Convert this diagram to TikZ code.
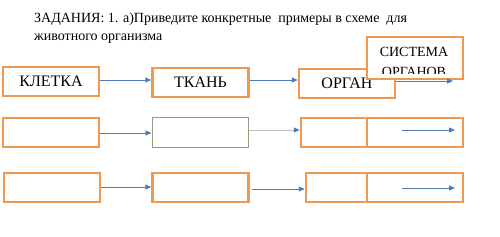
\documentclass[tikz,border=0pt]{standalone}
\usepackage{fontspec}
\setmainfont{Liberation Serif}
\usetikzlibrary{arrows.meta}
\definecolor{orng}{RGB}{238,152,80}
\definecolor{arrblue}{RGB}{79,124,185}
\definecolor{grn}{RGB}{140,160,125}
\definecolor{lgray}{RGB}{185,195,205}
\tikzset{
  obox/.style={draw=orng, line width=2.5pt, fill=white, inner sep=0pt, minimum height=29, minimum width=96, font=\fontsize{16}{18}\selectfont},
  gbox/.style={draw=grn, line width=1pt, fill=white, inner sep=0pt, minimum height=30, minimum width=96},
  arr/.style={draw=arrblue, line width=0.9pt, -{Triangle[length=6pt,width=5pt]}},
  title/.style={anchor=base west, inner sep=0pt, font=\fontsize{14}{16}\selectfont}
}
\begin{document}
\begin{tikzpicture}[x=1pt,y=-1pt]
\useasboundingbox[fill=white] (0,0) rectangle (500,236);
\node[title] (t1) at (34,22) {ЗАДАНИЯ: 1. а)Приведите конкретные\ \ примеры в схеме\ \ для};
\node[title] (t2) at (34,40) {животного организма};
% row 1
\node[obox] (k) at (51,81.5) {КЛЕТКА};
\node[obox] (tk) at (200.5,82.5) {ТКАНЬ};
\node[obox] (o) at (347,83.5) {ОРГАН};
\draw[arr] (k.east |- 0,80) -- (tk.west |- 0,80);
\draw[arr] (tk.east |- 0,80) -- (o.west |- 0,80);
\node[draw=orng, line width=2.5pt, fill=white, inner sep=0pt, minimum width=96, minimum height=42] (s) at (415,58) {};
\begin{scope}
\clip (369,39) rectangle (461,73);
\node[font=\fontsize{14}{20}\selectfont, align=center, inner sep=0pt] (st) at (414,61.5) {СИСТЕМА\\ОРГАНОВ};
\end{scope}
\coordinate (se) at (453,81);
\draw[arr] (o.east |- se) -- (se);
% row 2
\node[obox] (a1) at (51,132.5) {};
\node[gbox] (a2) at (200,132) {};
\node[obox, minimum width=66] (a3) at (334,132.5) {};
\node[obox, minimum width=96] (a4) at (415,132.5) {};
\draw[arr] (a1.east |- 0,133) -- (a2.west |- 0,133);
\draw[arr, draw=lgray, -{Triangle[length=6pt,width=5pt,color=arrblue]}] (a2.east |- 0,130) -- (a3.west |- 0,130);
\coordinate (a4s) at (402,130);
\coordinate (a4e) at (455,130);
\draw[arr] (a4s) -- (a4e);
% row 3
\node[obox] (b1) at (52,187.5) {};
\node[obox] (b2) at (200.5,187.5) {};
\node[obox, minimum width=61] (b3) at (336.5,187.5) {};
\node[obox, minimum width=96] (b4) at (415,187.5) {};
\coordinate (b2s) at (252,189);
\draw[arr] (b1.east |- 0,187) -- (b2.west |- 0,187);
\draw[arr] (b2s) -- (b3.west |- b2s);
\coordinate (b4s) at (402,188);
\coordinate (b4e) at (455,188);
\draw[arr] (b4s) -- (b4e);
\end{tikzpicture}
\end{document}
